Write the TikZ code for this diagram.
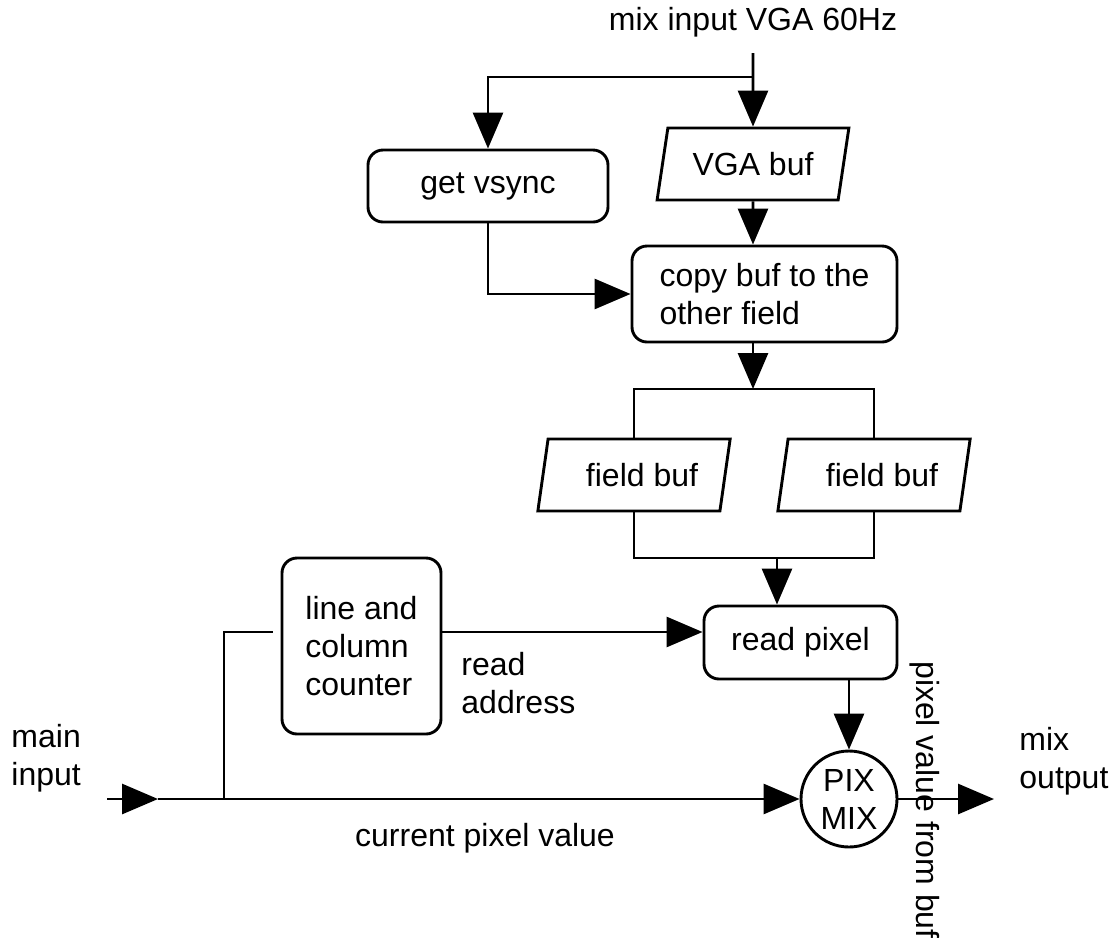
\documentclass[tikz,border=0pt]{standalone}
\usepackage{fontspec}
\setmainfont{Liberation Sans}
\usetikzlibrary{shapes.geometric, arrows.meta}

\begin{document}
\begin{tikzpicture}[x=0.5pt, y=-0.5pt,
    font=\fontsize{16}{19}\selectfont,
    line width=1.45pt,
    block/.style={draw, rounded corners=7.5pt, inner sep=0pt},
    buf/.style={draw, trapezium, trapezium left angle=72, trapezium right angle=108,
        trapezium stretches=true, minimum width=96.5pt, minimum height=36pt, inner sep=0pt},
    flow/.style={-{Triangle[length=18pt, width=15pt]}}]
    \useasboundingbox (0,0) rectangle (1110,939);

    % Boxes
    \node [block, minimum width=120pt, minimum height=36pt] (vsync) at (488,186) {get vsync};
    \node [buf] (vga) at (753,164) {VGA buf};
    \node [block, minimum width=132.5pt, minimum height=48pt, align=left] (copy) at (764.5,294)
        {copy buf to the\\other field};
    \node [buf] (field1) at (634,475) {\hspace{8pt}field buf};
    \node [buf] (field2) at (874,475) {\hspace{8pt}field buf};
    \node [block, minimum width=96.5pt, minimum height=36.5pt] (read) at (800.5,642.5) {read pixel};
    \node [block, minimum width=79.5pt, minimum height=88pt, align=left] (counter) at (361.5,646)
        {line and\\column\\counter};
    \node [draw, circle, minimum size=48pt, inner sep=0pt, align=center] (mix) at (849,799) {PIX\\MIX};

    % Branch points
    \coordinate (top) at (753,53);
    \coordinate (split) at (753,77);
    \coordinate (fork) at (753,389);
    \coordinate (join) at (777,558);
    \coordinate (in) at (107,799);
    \coordinate (inhead) at (158,799);
    \coordinate (feed) at (224,799);
    \coordinate (tap) at (273,632);
    \coordinate (out) at (994,799);

    % Flow
    \draw [flow] (top) -- (vga);
    \draw [flow] (split) -| (vsync);
    \draw [flow] (vga) -- (vga |- copy.north);
    \draw [flow] (vsync) |- (copy);
    \draw [flow] (copy.south -| fork) -- (fork);
    \draw (field1) |- (fork) -| (field2);
    \draw (field1) |- (join) -| (field2);
    \draw [flow] (join) -- (join |- read.north);
    \draw (feed) |- (tap);
    \draw [flow] (tap -| counter.east) -- (tap -| read.west);
    \draw [flow] (in) -- (inhead);
    \draw [flow] (inhead) -- (mix);
    \draw [flow] (mix |- read.south) -- (mix);
    \draw [flow] (mix) -- (out);

    % Labels
    \node (title) at (753,22) {mix input VGA 60Hz};
    \node [anchor=west, align=left, inner sep=0pt] (mainlbl) at (10,758) {main\\input};
    \node (curlbl) at (485,838) {current pixel value};
    \node [anchor=west, align=left, inner sep=0pt] (addrlbl) at (460,683) {read\\address};
    \node [anchor=west, align=left, inner sep=0pt] (outlbl) at (1018,761) {mix\\output};
    \node [rotate=-90] (buflbl) at (925,800) {pixel value from buf};

\end{tikzpicture}
\end{document}
